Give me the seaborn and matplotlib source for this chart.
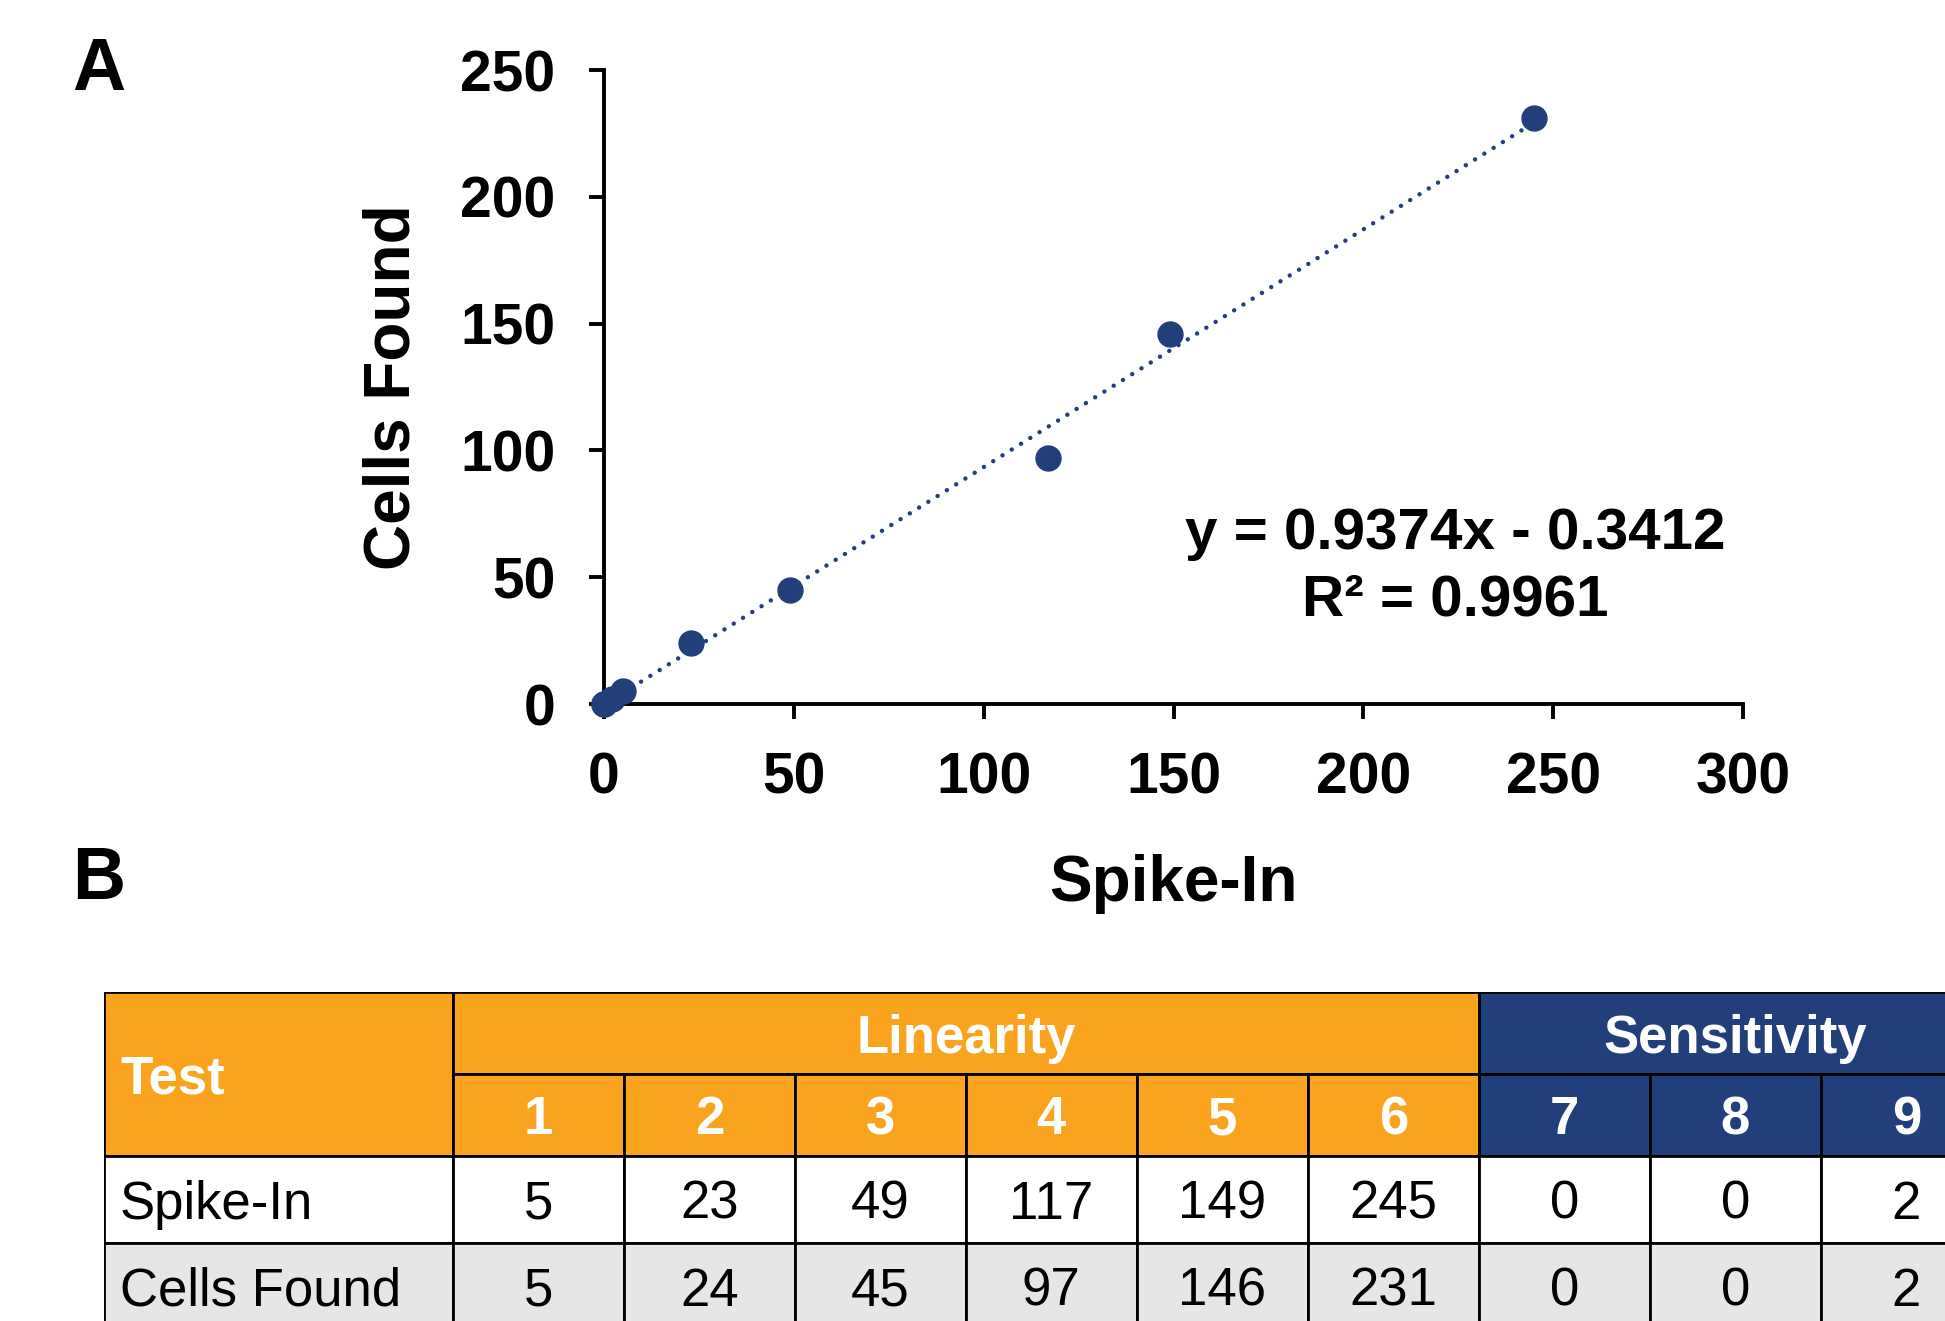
import numpy as np
import seaborn as sns
import matplotlib.pyplot as plt
from matplotlib.patches import Rectangle

# data
tests = ['1', '2', '3', '4', '5', '6', '7', '8', '9']
groups = ['Linearity', 'Sensitivity']
group_sizes = [6, 3]
spike_in = [5, 23, 49, 117, 149, 245, 0, 0, 2]
cells_found = [5, 24, 45, 97, 146, 231, 0, 0, 2]
row_names = ['Spike-In', 'Cells Found']
x_ticks = [0, 50, 100, 150, 200, 250, 300]
y_ticks = [0, 50, 100, 150, 200, 250]
equation = 'y = 0.9374x - 0.3412'
r_squared = 'R\u00b2 = 0.9961'

navy = '#213F7B'
orange = '#F9A31F'
gray = '#E6E6E6'

sns.set_style('ticks')
plt.rcParams['font.family'] = ['Liberation Sans', 'DejaVu Sans']
for key in ['text.color', 'axes.labelcolor', 'axes.edgecolor', 'xtick.color', 'ytick.color']:
    plt.rcParams[key] = 'black'

W, H = 1945, 1321
fig = plt.figure(figsize=(W / 100, H / 100), dpi=100)

# ---- panel A: scatter with trend line
ax = fig.add_axes([604 / W, 1 - 704 / H, (1743 - 604) / W, (704 - 70) / H])
sns.regplot(x=spike_in, y=cells_found, ax=ax, scatter=False, ci=None, color=navy,
            line_kws=dict(lw=3.2, ls=(0, (0.01, 2.45)), dash_capstyle='round'))
sns.scatterplot(x=spike_in, y=cells_found, ax=ax, s=360, color=navy, linewidth=0,
                clip_on=False, zorder=5)
ax.set_xlim(0, 300)
ax.set_ylim(0, 250)
ax.set_xticks(x_ticks)
ax.set_yticks(y_ticks)
sns.despine(ax=ax)
for side in ['left', 'bottom']:
    ax.spines[side].set_linewidth(2.8)
ax.tick_params(axis='both', direction='out', length=11, width=2.8, labelsize=41)
ax.tick_params(axis='x', pad=23)
ax.tick_params(axis='y', pad=24)
for lbl in ax.get_xticklabels() + ax.get_yticklabels():
    lbl.set_fontweight('bold')
ax.set_xlabel('Spike-In', fontsize=46, fontweight='bold')
ax.set_ylabel('Cells Found', fontsize=46, fontweight='bold')
ax.xaxis.set_label_coords(0.5, -0.237)
ax.yaxis.set_label_coords(-0.159, 0.5)
ax.text(0.747, 0.245, equation, transform=ax.transAxes, ha='center', va='baseline',
        fontsize=42, fontweight='bold')
ax.text(0.747, 0.14, r_squared, transform=ax.transAxes, ha='center', va='baseline',
        fontsize=42, fontweight='bold')

fig.text(99 / W, 1 - 90 / H, 'A', ha='center', va='baseline', fontsize=53, fontweight='bold')
fig.text(99 / W, 1 - 899 / H, 'B', ha='center', va='baseline', fontsize=53, fontweight='bold')

# ---- panel B: table
tab = fig.add_axes([104 / W, 0, (W - 104) / W, (H - 992) / H])
tab.set_axis_off()
first_w = 2.04
col_edges = np.concatenate([[0, first_w], first_w + np.arange(1, len(tests) + 1)])
row_h = [1, 1, 1.06, 1.06]
row_edges = np.concatenate([[0], np.cumsum(row_h)])
tab.set_xlim(0, (W - 104) / 171)
tab.set_ylim((H - 992) / 82, 0)

lw = 2.0
fs = 38
text_x = 0.094
col_group = []
for g, n in zip(groups, group_sizes):
    col_group += [g] * n
group_color = {'Linearity': orange, 'Sensitivity': navy}

# "Test" header cell spanning two header rows
tab.add_patch(Rectangle((0, 0), first_w, row_edges[2], facecolor=orange, edgecolor='black', lw=lw))
tab.text(text_x, row_edges[2] / 2, 'Test', ha='left', va='center_baseline', color='white',
         fontsize=fs, fontweight='bold')

# group header row
start = 0
for g, n in zip(groups, group_sizes):
    x0, x1 = col_edges[1 + start], col_edges[1 + start + n]
    tab.add_patch(Rectangle((x0, 0), x1 - x0, row_h[0], facecolor=group_color[g],
                            edgecolor='black', lw=lw))
    tab.text((x0 + x1) / 2, row_h[0] / 2, g, ha='center', va='center_baseline', color='white',
             fontsize=fs, fontweight='bold')
    start += n

# test numbers row
for i, t in enumerate(tests):
    x0, x1 = col_edges[i + 1], col_edges[i + 2]
    tab.add_patch(Rectangle((x0, row_edges[1]), x1 - x0, row_h[1], facecolor=group_color[col_group[i]],
                            edgecolor='black', lw=lw))
    tab.text((x0 + x1) / 2, row_edges[1] + row_h[1] / 2, t, ha='center', va='center_baseline',
             color='white', fontsize=fs, fontweight='bold')

# data rows
for r, (name, vals, bg) in enumerate(zip(row_names, [spike_in, cells_found], ['white', gray])):
    y0 = row_edges[2 + r]
    h = row_h[2 + r]
    tab.add_patch(Rectangle((0, y0), first_w, h, facecolor=bg, edgecolor='black', lw=lw))
    tab.text(text_x, y0 + h / 2, name, ha='left', va='center_baseline', fontsize=fs)
    for i, v in enumerate(vals):
        x0, x1 = col_edges[i + 1], col_edges[i + 2]
        tab.add_patch(Rectangle((x0, y0), x1 - x0, h, facecolor=bg, edgecolor='black', lw=lw))
        tab.text((x0 + x1) / 2, y0 + h / 2, str(v), ha='center', va='center_baseline', fontsize=fs)

fig.savefig('out.png', dpi=100)
